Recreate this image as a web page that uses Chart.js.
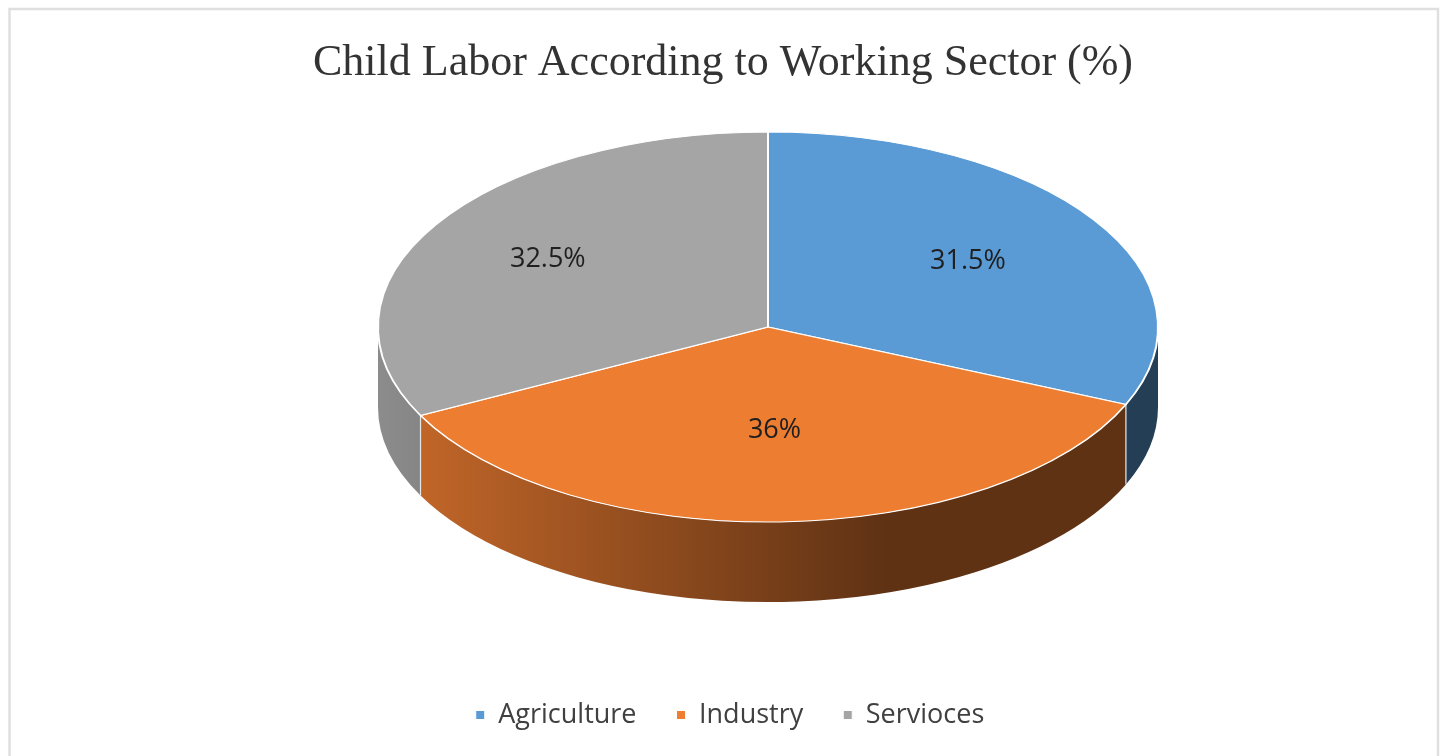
<!DOCTYPE html>
<html>
<head>
<meta charset="utf-8">
<script src="https://cdn.jsdelivr.net/npm/chart.js@4.4.1/dist/chart.umd.min.js"></script>
<style>
  html, body { margin: 0; padding: 0; background: #fff; }
  #wrap { width: 1446px; height: 756px; position: relative; }
</style>
</head>
<body>
<div id="wrap"><canvas id="chart"></canvas></div>
<script>
// chart data
const categories = ['Agriculture', 'Industry', 'Servioces'];
const shares = [31.5, 36, 32.5];
const sliceColors = ['#5B9BD5', '#ED7D31', '#A5A5A5'];

// darken a hex colour by a factor
function shade(hex, f) {
    const n = parseInt(hex.slice(1), 16);
    const r = Math.round(((n >> 16) & 255) * f);
    const g = Math.round(((n >> 8) & 255) * f);
    const b = Math.round((n & 255) * f);
    return `rgb(${r},${g},${b})`;
}

// light frame round the whole picture
const framePlugin = {
    id: 'frame',
    beforeDraw(chart) {
        const ctx = chart.ctx;
        ctx.save();
        ctx.strokeStyle = '#dfdfdf';
        ctx.lineWidth = 2.5;
        ctx.strokeRect(9.5, 9, 1428.5, 800);
        ctx.restore();
    }
};

// nudge the legend a little to the right, as in the original
const legendShift = {
    id: 'legendShift',
    afterLayout(chart) {
        const lg = chart.legend;
        if (lg) { lg.left += 7; lg.right += 7; }
    }
};

// flattens the pie into an ellipse and gives it a side wall
const pie3dPlugin = {
    id: 'pie3d',
    beforeDatasetsDraw(chart, args, opts) {
        const ctx = chart.ctx;
        const arcs = chart.getDatasetMeta(0).data;
        const r = arcs[0].outerRadius;
        const g = {
            ax: arcs[0].x, ay: arcs[0].y,
            cx: arcs[0].x + opts.shiftX,
            cy: chart.chartArea.top + r,
            rx: r * opts.stretch, ry: r, depth: opts.depth
        };
        chart.$pie = g;

        ctx.save();
        arcs.forEach((arc, i) => {
            const base = sliceColors[i];
            const grad = ctx.createLinearGradient(g.cx - g.rx, 0, g.cx + g.rx, 0);
            grad.addColorStop(0, shade(base, 0.85));
            grad.addColorStop(0.65, shade(base, 0.4));
            grad.addColorStop(1, shade(base, 0.4));
            for (let k = -1; k <= 1; k++) {
                const a = Math.max(arc.startAngle, 2 * Math.PI * k);
                const b = Math.min(arc.endAngle, 2 * Math.PI * k + Math.PI);
                if (b <= a) continue;
                ctx.beginPath();
                ctx.ellipse(g.cx, g.cy, g.rx, g.ry, 0, a, b);
                ctx.ellipse(g.cx, g.cy + g.depth, g.rx, g.ry, 0, b, a, true);
                ctx.closePath();
                ctx.fillStyle = grad;
                ctx.fill();
            }
        });
        // thin edges where the slices meet on the wall
        ctx.strokeStyle = '#e6e6e6';
        ctx.lineWidth = 1.2;
        arcs.forEach(arc => {
            const t = ((arc.startAngle % (2 * Math.PI)) + 2 * Math.PI) % (2 * Math.PI);
            if (t > 0.01 && t < Math.PI - 0.01) {
                const x = g.cx + g.rx * Math.cos(t);
                const y = g.cy + g.ry * Math.sin(t);
                ctx.beginPath();
                ctx.moveTo(x, y);
                ctx.lineTo(x, y + g.depth);
                ctx.stroke();
            }
        });
        ctx.restore();

        // top face: let Chart.js draw the circle, stretched sideways
        ctx.save();
        ctx.translate(g.cx, g.cy);
        ctx.scale(opts.stretch, 1);
        ctx.translate(-g.ax, -g.ay);
    },
    afterDatasetsDraw(chart) {
        const ctx = chart.ctx;
        ctx.restore();
        const g = chart.$pie;
        const arcs = chart.getDatasetMeta(0).data;
        ctx.save();
        ctx.font = '27px "Open Sans"';
        ctx.fillStyle = '#1f1f1f';
        ctx.textAlign = 'center';
        ctx.textBaseline = 'middle';
        arcs.forEach((arc, i) => {
            const mid = (arc.startAngle + arc.endAngle) / 2;
            const f = 0.6 - 0.07 * Math.sin(mid) - 0.03 * Math.cos(mid);
            const x = g.cx + f * g.rx * Math.cos(mid);
            const y = g.cy + f * g.ry * Math.sin(mid);
            ctx.fillText(shares[i] + '%', x, y);
        });
        ctx.restore();
    }
};

new Chart(document.getElementById('chart'), {
    type: 'pie',
    data: {
        labels: categories,
        datasets: [{
            data: shares,
            backgroundColor: sliceColors,
            borderColor: '#ffffff',
            borderWidth: 1,
            radius: 195,
            clip: false
        }]
    },
    options: {
        responsive: true,
        maintainAspectRatio: false,
        animation: false,
        events: [],
        layout: { padding: { bottom: 17.5 } },
        plugins: {
            title: {
                display: true,
                text: 'Child Labor According to Working Sector (%)',
                color: '#333333',
                font: { family: '"Liberation Serif"', size: 44, weight: 'normal' },
                padding: { top: 37, bottom: 42.2 }
            },
            legend: {
                position: 'bottom',
                labels: {
                    usePointStyle: true,
                    pointStyle: 'rect',
                    boxWidth: 9,
                    boxHeight: 9,
                    padding: 40,
                    color: '#404040',
                    font: { family: '"Open Sans"', size: 27 }
                }
            },
            tooltip: { enabled: false },
            pie3d: { stretch: 2, depth: 80, shiftX: 45 }
        }
    },
    plugins: [framePlugin, legendShift, pie3dPlugin]
});
</script>
</body>
</html>
